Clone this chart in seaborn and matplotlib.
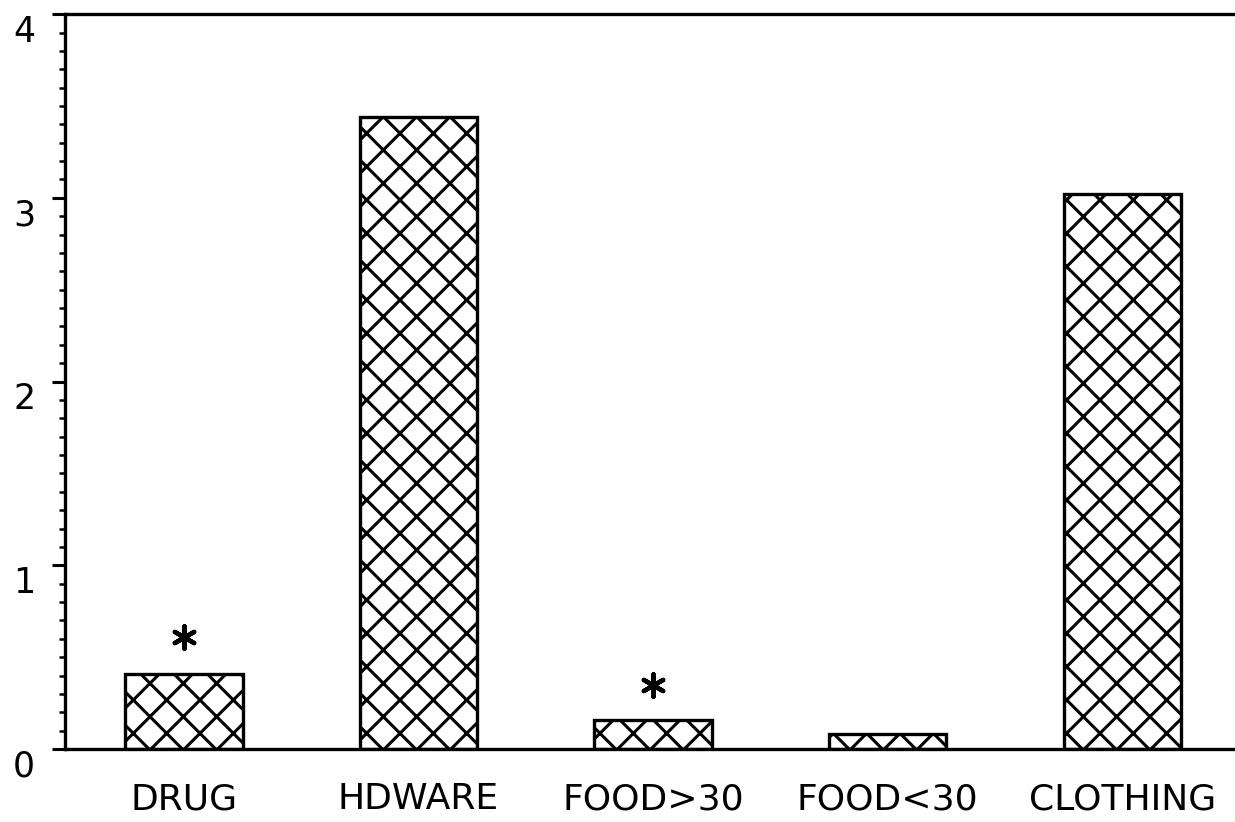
import numpy as np
import pandas as pd
import matplotlib
matplotlib.use("Agg")
import matplotlib.pyplot as plt
import matplotlib.transforms as mtransforms
import seaborn as sns
from matplotlib.ticker import MultipleLocator, FormatStrFormatter

# data
categories = ["DRUG", "HDWARE", "FOOD>30", "FOOD<30", "CLOTHING"]
values = [0.41, 3.44, 0.16, 0.08, 3.02]
star_cats = ["DRUG", "FOOD>30"]
star_vals = [0.61, 0.35]

sns.set_style("ticks")
plt.rcParams["font.family"] = ["DejaVu Sans"]
plt.rcParams["hatch.linewidth"] = 2.2
plt.rcParams["hatch.color"] = "black"

fig = plt.figure(figsize=(12.35, 8.22), dpi=100)
ax = fig.add_axes([0.0526, 0.0888, 0.9474, 0.894])

df = pd.DataFrame({"cat": categories, "val": values})
sns.barplot(data=df, x="cat", y="val", order=categories, color="white",
            edgecolor="black", linewidth=2.4, hatch="x", width=0.5,
            saturation=1, ax=ax)

stars = pd.DataFrame({"cat": star_cats, "val": star_vals})
sns.stripplot(data=stars, x="cat", y="val", order=categories, jitter=False,
              marker=(6, 2, 0), s=16, linewidth=3.2, color="black",
              edgecolor="black", ax=ax)

ax.set_xlim(-0.507, 4.48)
ax.set_ylim(0, 4)
ax.yaxis.set_major_locator(MultipleLocator(1))
ax.yaxis.set_minor_locator(MultipleLocator(0.1))
ax.yaxis.set_major_formatter(FormatStrFormatter("%d"))
ax.set_xlabel("")
ax.set_ylabel("")

for side in ["left", "top", "bottom"]:
    ax.spines[side].set_visible(True)
    ax.spines[side].set_linewidth(2.4)
    ax.spines[side].set_color("black")
ax.spines["right"].set_visible(False)

ax.tick_params(axis="y", which="major", direction="out", length=9.4,
               width=2.2, labelsize=25, pad=12, colors="black")
ax.tick_params(axis="y", which="minor", direction="out", length=4.4,
               width=1.8, colors="black")
ax.tick_params(axis="x", length=0, labelsize=26, pad=24, colors="black")

# the y numbers sit a little below their ticks in the original
shift = mtransforms.ScaledTranslation(0, -10 / 72, fig.dpi_scale_trans)
for lab in ax.get_yticklabels():
    lab.set_transform(lab.get_transform() + shift)

fig.savefig("out.png", dpi=100, facecolor="white")
